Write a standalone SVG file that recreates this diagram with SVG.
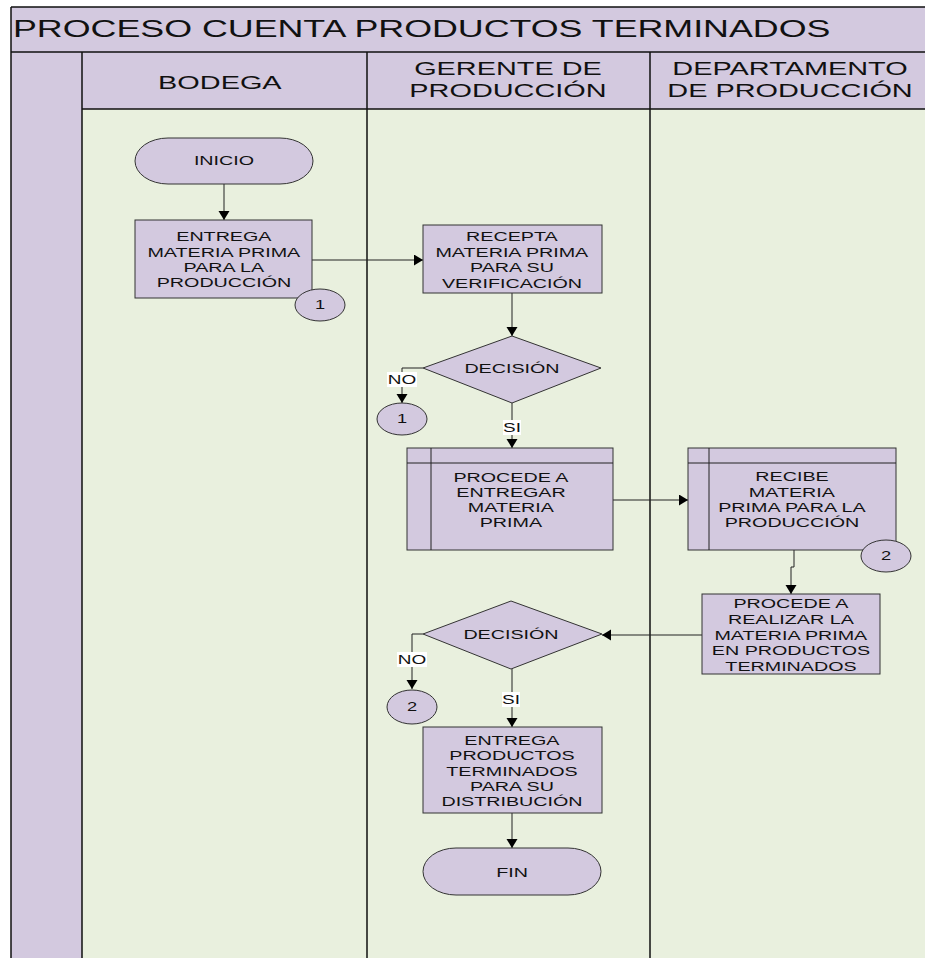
<svg xmlns="http://www.w3.org/2000/svg" width="925" height="958" viewBox="0 0 925 958">
  <style>
    text { font-family: "Liberation Sans", Arial, sans-serif; fill: #111; text-anchor: middle; }
    .wide { transform-box: fill-box; transform-origin: center; transform: scaleX(1.46); }
    .title { font-size: 24.2px; text-anchor: start; transform-box: fill-box; transform-origin: left center; transform: scaleX(1.48); }
    .lane { font-size: 19px; transform-box: fill-box; transform-origin: center; transform: scaleX(1.52); }
    .n { font-size: 13.5px; }
    .c { font-size: 12.5px; }
    .lbl { font-size: 13px; }
    .shape { fill: #D3C9DF; stroke: #333; stroke-width: 1; }
    .edge { fill: none; stroke: #222; stroke-width: 1; }
    .grid { stroke: #111; stroke-width: 1.5; fill: none; }
    .tag { fill: #fff; stroke: none; }
  </style>
  <defs>
    <marker id="arrow" markerUnits="userSpaceOnUse" markerWidth="10" markerHeight="12" refX="9" refY="5.5" orient="auto">
      <path d="M0,0 L9,5.5 L0,11 z" fill="#000"/>
    </marker>
  </defs>

  <!-- swimlane frame -->
  <g id="frame">
    <rect x="11" y="7" width="920" height="960" fill="#D3C9DF"/>
    <rect x="82" y="109" width="850" height="860" fill="#E9F0DE"/>
    <path class="grid" d="M11,7 H931 M11,52 H931 M82,109 H931 M11,7 V960 M82,52 V960 M367,52 V960 M650,52 V960"/>
    <text class="title" x="13" y="37">PROCESO CUENTA PRODUCTOS TERMINADOS</text>
    <text class="lane" x="220" y="89">BODEGA</text>
    <text class="lane" x="508" y="75">GERENTE DE</text>
    <text class="lane" x="508" y="97">PRODUCCIÓN</text>
    <text class="lane" x="790" y="75">DEPARTAMENTO</text>
    <text class="lane" x="790" y="97">DE PRODUCCIÓN</text>
  </g>

  <!-- connectors -->
  <g id="connectors">
    <path class="edge" d="M224,184 V220" marker-end="url(#arrow)"/>
    <path class="edge" d="M312,260 H423" marker-end="url(#arrow)"/>
    <path class="edge" d="M512,293 V336" marker-end="url(#arrow)"/>
    <path class="edge" d="M423,368 H402 V403" marker-end="url(#arrow)"/>
    <path class="edge" d="M512,403 V448" marker-end="url(#arrow)"/>
    <path class="edge" d="M613,500 H688" marker-end="url(#arrow)"/>
    <path class="edge" d="M794,550 V567 H791 V594" marker-end="url(#arrow)"/>
    <path class="edge" d="M702,635 H602" marker-end="url(#arrow)"/>
    <path class="edge" d="M423,634 H412 V689" marker-end="url(#arrow)"/>
    <path class="edge" d="M512,669 V727" marker-end="url(#arrow)"/>
    <path class="edge" d="M512,813 V848" marker-end="url(#arrow)"/>
    <rect class="tag" x="387" y="372" width="30" height="15"/>
    <text class="lbl wide" x="402" y="384">NO</text>
    <rect class="tag" x="503" y="420" width="18" height="15"/>
    <text class="lbl wide" x="512" y="432">SI</text>
    <rect class="tag" x="397" y="652" width="30" height="15"/>
    <text class="lbl wide" x="412" y="664">NO</text>
    <rect class="tag" x="502" y="692" width="18" height="15"/>
    <text class="lbl wide" x="511" y="704">SI</text>
  </g>

  <g id="inicio">
    <rect class="shape" x="135" y="138" width="178" height="46" rx="33" ry="23"/>
    <text class="n wide" x="224" y="165.5">INICIO</text>
  </g>

  <g id="entrega-materia">
    <rect class="shape" x="135" y="220" width="177" height="78"/>
    <text class="n wide" x="224" y="241">ENTREGA</text>
    <text class="n wide" x="224" y="257">MATERIA PRIMA</text>
    <text class="n wide" x="224" y="272">PARA LA</text>
    <text class="n wide" x="224" y="287">PRODUCCIÓN</text>
  </g>

  <g id="conector-1a">
    <ellipse class="shape" cx="320" cy="305" rx="25" ry="16"/>
    <text class="c wide" x="320" y="309.5">1</text>
  </g>

  <g id="recepta">
    <rect class="shape" x="423" y="225" width="179" height="68"/>
    <text class="n wide" x="512" y="241">RECEPTA</text>
    <text class="n wide" x="512" y="257">MATERIA PRIMA</text>
    <text class="n wide" x="512" y="272">PARA SU</text>
    <text class="n wide" x="512" y="288">VERIFICACIÓN</text>
  </g>

  <g id="decision-1">
    <polygon class="shape" points="512,336 601,368 512,403 423,368"/>
    <text class="n wide" x="512" y="373.5">DECISIÓN</text>
  </g>

  <g id="conector-1b">
    <ellipse class="shape" cx="402" cy="419" rx="25" ry="16"/>
    <text class="c wide" x="402" y="423.5">1</text>
  </g>

  <g id="procede-entregar">
    <rect class="shape" x="407" y="448" width="206" height="102"/>
    <path class="edge" d="M431,448 V550 M407,463 H613" stroke="#333"/>
    <text class="n wide" x="511" y="482">PROCEDE A</text>
    <text class="n wide" x="511" y="497">ENTREGAR</text>
    <text class="n wide" x="511" y="512">MATERIA</text>
    <text class="n wide" x="511" y="527">PRIMA</text>
  </g>

  <g id="recibe">
    <rect class="shape" x="688" y="448" width="208" height="102"/>
    <path class="edge" d="M709,448 V550 M688,463 H896" stroke="#333"/>
    <text class="n wide" x="792" y="481">RECIBE</text>
    <text class="n wide" x="792" y="497">MATERIA</text>
    <text class="n wide" x="792" y="512">PRIMA PARA LA</text>
    <text class="n wide" x="792" y="527">PRODUCCIÓN</text>
  </g>

  <g id="conector-2a">
    <ellipse class="shape" cx="886" cy="556" rx="25" ry="16"/>
    <text class="c wide" x="886" y="560.5">2</text>
  </g>

  <g id="procede-realizar">
    <rect class="shape" x="702" y="594" width="178" height="80"/>
    <text class="n wide" x="791" y="608">PROCEDE A</text>
    <text class="n wide" x="791" y="624.5">REALIZAR LA</text>
    <text class="n wide" x="791" y="640">MATERIA PRIMA</text>
    <text class="n wide" x="791" y="655.5">EN PRODUCTOS</text>
    <text class="n wide" x="791" y="671">TERMINADOS</text>
  </g>

  <g id="decision-2">
    <polygon class="shape" points="511,601 602,634 511,669 423,634"/>
    <text class="n wide" x="511" y="639">DECISIÓN</text>
  </g>

  <g id="conector-2b">
    <ellipse class="shape" cx="412" cy="707" rx="25" ry="17"/>
    <text class="c wide" x="412" y="711.5">2</text>
  </g>

  <g id="entrega-productos">
    <rect class="shape" x="423" y="727" width="179" height="86"/>
    <text class="n wide" x="512" y="745">ENTREGA</text>
    <text class="n wide" x="512" y="760">PRODUCTOS</text>
    <text class="n wide" x="512" y="776">TERMINADOS</text>
    <text class="n wide" x="512" y="791">PARA SU</text>
    <text class="n wide" x="512" y="806">DISTRIBUCIÓN</text>
  </g>

  <g id="fin">
    <rect class="shape" x="423" y="848" width="178" height="47" rx="33" ry="23.5"/>
    <text class="n wide" x="512" y="877">FIN</text>
  </g>
</svg>
